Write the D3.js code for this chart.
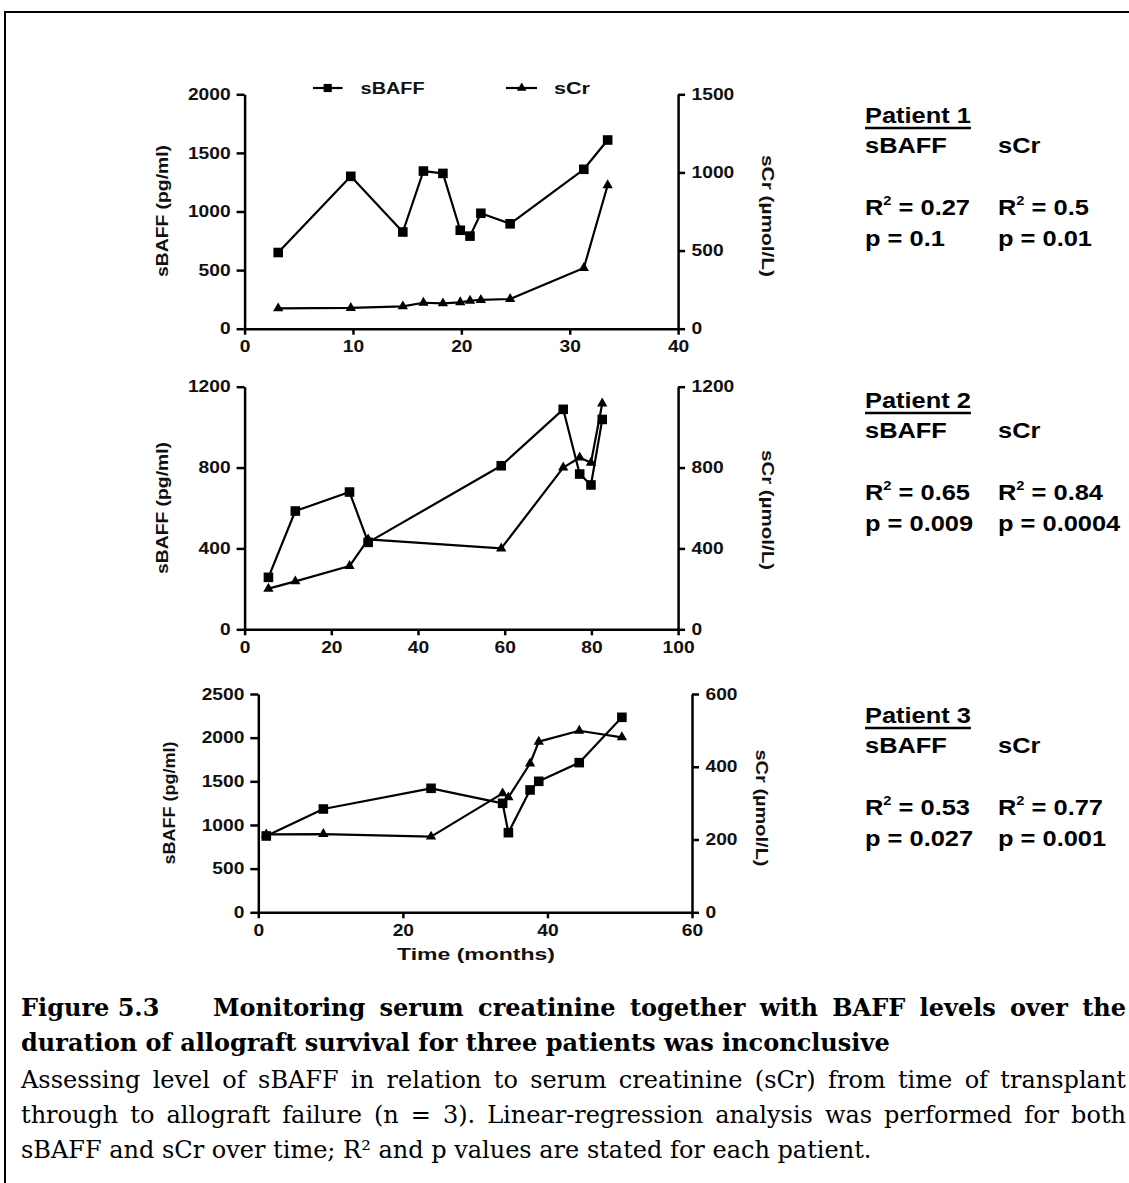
<!DOCTYPE html>
<html>
<head>
<meta charset="utf-8">
<script src="https://cdn.jsdelivr.net/npm/d3@7"></script>
<style>
  html, body { margin: 0; padding: 0; background: #fff; }
  svg { display: block; }
</style>
</head>
<body>
<svg id="fig" width="1129" height="1183"></svg>
<script>
// ---- Patient 1 ----
const p1Months = [3.1, 9.8, 14.6, 16.5, 18.3, 19.9, 20.8, 21.8, 24.5, 31.3, 33.5];
const p1Baff   = [650, 1300, 825, 1345, 1325, 840, 790, 985, 895, 1360, 1610];
const p1Cr     = [130, 133, 143, 166, 162, 169, 179, 184, 190, 388, 918];
const p1XTicks     = [0, 10, 20, 30, 40];
const p1BaffTicks  = [0, 500, 1000, 1500, 2000];
const p1CrTicks    = [0, 500, 1000, 1500];

// ---- Patient 2 ----
const p2Months = [5.5, 11.7, 24.2, 28.5, 59.2, 73.5, 77.3, 79.9, 82.5];
const p2Baff   = [257, 585, 679, 430, 809, 1088, 768, 714, 1038];
const p2Cr     = [201, 237, 313, 445, 400, 800, 850, 824, 1117];
const p2XTicks     = [0, 20, 40, 60, 80, 100];
const p2BaffTicks  = [0, 400, 800, 1200];
const p2CrTicks    = [0, 400, 800, 1200];

// ---- Patient 3 ----
const p3Months = [1.1, 9.0, 23.9, 33.8, 34.6, 37.6, 38.8, 44.4, 50.3];
const p3Baff   = [874, 1183, 1420, 1248, 912, 1401, 1500, 1714, 2233];
const p3Cr     = [214, 215, 208, 327, 316, 409, 469, 499, 481];
const p3XTicks     = [0, 20, 40, 60];
const p3BaffTicks  = [0, 500, 1000, 1500, 2000, 2500];
const p3CrTicks    = [0, 200, 400, 600];

// ---- Regression statistics ----
const patientNames = ["Patient 1", "Patient 2", "Patient 3"];
const baffR2 = [0.27, 0.65, 0.53];
const baffP  = [0.1, 0.009, 0.027];
const crR2   = [0.5, 0.84, 0.77];
const crP    = [0.01, 0.0004, 0.001];

// ---- Text ----
const seriesNames = ["sBAFF", "sCr"];
const leftAxisTitle = "sBAFF (pg/ml)";
const rightAxisTitle = "sCr (\u00b5mol/L)";
const xAxisTitle = "Time (months)";
const captionNumber = "Figure 5.3";
const captionTitle1 = "Monitoring serum creatinine together with BAFF levels over the";
const captionTitle2 = "duration of allograft survival for three patients was inconclusive";
const captionBody1 = "Assessing level of sBAFF in relation to serum creatinine (sCr) from time of transplant";
const captionBody2 = "through to allograft failure (n = 3). Linear-regression analysis was performed for both";
const captionBody3 = "sBAFF and sCr over time; R\u00b2 and p values are stated for each patient.";

// ---- Layout ----
const SANS = "'Liberation Sans', Arial, Helvetica, sans-serif";
const SERIF = "'DejaVu Serif', 'Liberation Serif', serif";
const SX = 1.2;          // horizontal stretch of chart lettering
const SXS = 1.13;        // horizontal stretch of statistics lettering
const svg = d3.select("#fig");

// outer frame (left and top edges)
svg.append("path")
  .attr("d", "M5,1200 V12 H1140")
  .attr("fill", "none").attr("stroke", "#000").attr("stroke-width", 2);

const panels = [
  { months: p1Months, baff: p1Baff, cr: p1Cr, xMax: 40, xTicks: p1XTicks,
    baffMax: 2000, baffTicks: p1BaffTicks, crMax: 1500, crTicks: p1CrTicks,
    left: 244.6, right: 678.1, top: 94.3, bottom: 328.7,
    lTitle: { x: 162, y: 211, len: 132 }, rTitle: { x: 768, y: 216, len: 122 }, statsY: 123 },
  { months: p2Months, baff: p2Baff, cr: p2Cr, xMax: 100, xTicks: p2XTicks,
    baffMax: 1200, baffTicks: p2BaffTicks, crMax: 1200, crTicks: p2CrTicks,
    left: 244.6, right: 678.1, top: 386.7, bottom: 629.3,
    lTitle: { x: 162, y: 508, len: 132 }, rTitle: { x: 768, y: 510, len: 120 }, statsY: 408 },
  { months: p3Months, baff: p3Baff, cr: p3Cr, xMax: 60, xTicks: p3XTicks,
    baffMax: 2500, baffTicks: p3BaffTicks, crMax: 600, crTicks: p3CrTicks,
    left: 258.3, right: 692, top: 694, bottom: 912.3,
    lTitle: { x: 169.5, y: 803, len: 123 }, rTitle: { x: 762, y: 808, len: 117 }, statsY: 723 }
];

function styleAxis(g, side, tickLen, pad) {
  g.attr("font-family", null).attr("font-size", null);
  g.select(".domain").attr("stroke", "#000").attr("stroke-width", 2.5);
  g.selectAll(".tick line").attr("stroke", "#000").attr("stroke-width", 2.5);
  const t = g.selectAll(".tick text")
    .attr("fill", "#111")
    .attr("font-family", SANS).attr("font-weight", "bold").attr("font-size", 16)
    .attr("transform", `scale(${SX},1)`);
  if (side === "left") t.attr("x", -(tickLen + pad) / SX);
  if (side === "right") t.attr("x", (tickLen + pad) / SX);
}

const squareSym = d3.symbol().type(d3.symbolSquare).size(92);
const triSym = d3.symbol().type(d3.symbolTriangle).size(46);

panels.forEach((p, i) => {
  const x = d3.scaleLinear().domain([0, p.xMax]).range([p.left, p.right]);
  const yL = d3.scaleLinear().domain([0, p.baffMax]).range([p.bottom, p.top]);
  const yR = d3.scaleLinear().domain([0, p.crMax]).range([p.bottom, p.top]);
  const g = svg.append("g");

  // axes
  const gx = g.append("g").attr("transform", `translate(0,${p.bottom})`)
    .call(d3.axisBottom(x).tickValues(p.xTicks).tickSize(6).tickPadding(6).tickSizeOuter(0).tickFormat(d3.format("d")));
  styleAxis(gx, "bottom", 6, 6);
  const gl = g.append("g").attr("transform", `translate(${p.left},0)`)
    .call(d3.axisLeft(yL).tickValues(p.baffTicks).tickSize(8).tickSizeOuter(0).tickFormat(d3.format("d")));
  styleAxis(gl, "left", 8, 6);
  const gr = g.append("g").attr("transform", `translate(${p.right},0)`)
    .call(d3.axisRight(yR).tickValues(p.crTicks).tickSize(7).tickSizeOuter(0).tickFormat(d3.format("d")));
  styleAxis(gr, "right", 7, 6.5);

  // axis titles
  g.append("text")
    .attr("transform", `translate(${p.lTitle.x},${p.lTitle.y}) rotate(-90)`)
    .attr("text-anchor", "middle").attr("dy", "0.36em")
    .attr("font-family", SANS).attr("font-weight", "bold").attr("font-size", 16).attr("fill", "#111")
    .attr("textLength", p.lTitle.len).attr("lengthAdjust", "spacingAndGlyphs")
    .text(leftAxisTitle);
  g.append("text")
    .attr("transform", `translate(${p.rTitle.x},${p.rTitle.y}) rotate(90)`)
    .attr("text-anchor", "middle").attr("dy", "0.36em")
    .attr("font-family", SANS).attr("font-weight", "bold").attr("font-size", 16).attr("fill", "#111")
    .attr("textLength", p.rTitle.len).attr("lengthAdjust", "spacingAndGlyphs")
    .text(rightAxisTitle);

  // series
  const idx = d3.range(p.months.length);
  const lineB = d3.line().x(j => x(p.months[j])).y(j => yL(p.baff[j]));
  const lineC = d3.line().x(j => x(p.months[j])).y(j => yR(p.cr[j]));
  g.append("path").attr("d", lineC(idx)).attr("fill", "none").attr("stroke", "#000").attr("stroke-width", 2.2).attr("stroke-linejoin", "round");
  g.append("path").attr("d", lineB(idx)).attr("fill", "none").attr("stroke", "#000").attr("stroke-width", 2.2).attr("stroke-linejoin", "round");
  g.selectAll(".tri").data(idx).join("path")
    .attr("transform", j => `translate(${x(p.months[j])},${yR(p.cr[j])})`)
    .attr("d", triSym).attr("fill", "#000");
  g.selectAll(".sq").data(idx).join("path")
    .attr("transform", j => `translate(${x(p.months[j])},${yL(p.baff[j])})`)
    .attr("d", squareSym).attr("fill", "#000");

  // statistics block
  const sx1 = 865, sx2 = 998, fs = 22.5;
  const st = svg.append("g").attr("font-family", SANS).attr("font-weight", "bold").attr("font-size", fs).attr("fill", "#000");
  const put = (xx, yy) => st.append("text").attr("transform", `translate(${xx},${yy}) scale(${SXS},1)`);
  const title = put(sx1, p.statsY).text(patientNames[i]);
  const tw = title.node().getComputedTextLength() * SXS;
  st.append("line").attr("x1", sx1).attr("x2", sx1 + tw)
    .attr("y1", p.statsY + 5).attr("y2", p.statsY + 5).attr("stroke", "#000").attr("stroke-width", 2.5);
  put(sx1, p.statsY + 30).text(seriesNames[0]);
  put(sx2, p.statsY + 30).text(seriesNames[1]);
  [[sx1, baffR2[i], baffP[i]], [sx2, crR2[i], crP[i]]].forEach(([xx, r2, pv]) => {
    const t = put(xx, p.statsY + 92);
    t.append("tspan").text("R");
    t.append("tspan").attr("font-size", 13).attr("dy", -10).text("2");
    t.append("tspan").attr("dy", 10).text(" = " + r2);
    put(xx, p.statsY + 123).text("p = " + pv);
  });
});

// legend
const lg = svg.append("g").attr("font-family", SANS).attr("font-weight", "bold").attr("font-size", 16).attr("fill", "#111");
lg.append("line").attr("x1", 313).attr("x2", 342.5).attr("y1", 88).attr("y2", 88).attr("stroke", "#000").attr("stroke-width", 2.2);
lg.append("path").attr("transform", "translate(327.7,88)").attr("d", d3.symbol().type(d3.symbolSquare).size(66)).attr("fill", "#000");
lg.append("text").attr("x", 360.6).attr("y", 93.6).attr("textLength", 64).attr("lengthAdjust", "spacingAndGlyphs").text(seriesNames[0]);
lg.append("line").attr("x1", 506).attr("x2", 537).attr("y1", 88).attr("y2", 88).attr("stroke", "#000").attr("stroke-width", 2.2);
lg.append("path").attr("transform", "translate(521.7,88)").attr("d", d3.symbol().type(d3.symbolTriangle).size(40)).attr("fill", "#000");
lg.append("text").attr("x", 554).attr("y", 93.6).attr("textLength", 36).attr("lengthAdjust", "spacingAndGlyphs").text(seriesNames[1]);

// x-axis title under the last panel
svg.append("text").attr("x", 476).attr("y", 960).attr("text-anchor", "middle")
  .attr("font-family", SANS).attr("font-weight", "bold").attr("font-size", 17).attr("fill", "#111")
  .attr("textLength", 158).attr("lengthAdjust", "spacingAndGlyphs")
  .text(xAxisTitle);

// caption
const cap = svg.append("g").attr("font-family", SERIF).attr("font-size", 24).attr("fill", "#000");
function justify(str, x0, x1, y, weight) {
  const words = str.split(" ");
  const nodes = words.map(w => cap.append("text").attr("y", y).attr("font-weight", weight).text(w));
  const widths = nodes.map(n => n.node().getComputedTextLength());
  const gap = (x1 - x0 - d3.sum(widths)) / (words.length - 1);
  let xx = x0;
  nodes.forEach((n, k) => { n.attr("x", xx); xx += widths[k] + gap; });
}
function fitLine(str, x0, x1, y, weight) {
  const t = cap.append("text").attr("x", x0).attr("y", y).attr("font-weight", weight).text(str);
  if (t.node().getComputedTextLength() > x1 - x0) {
    t.attr("textLength", x1 - x0).attr("lengthAdjust", "spacingAndGlyphs");
  }
  return t;
}
cap.append("text").attr("x", 21).attr("y", 1016).attr("font-weight", "bold").text(captionNumber);
justify(captionTitle1, 213, 1126, 1016, "bold");
fitLine(captionTitle2, 21, 896, 1051, "bold");
justify(captionBody1, 21, 1126, 1088, "normal");
justify(captionBody2, 21, 1126, 1123, "normal");
fitLine(captionBody3, 21, 880, 1158, "normal");
</script>
</body>
</html>
